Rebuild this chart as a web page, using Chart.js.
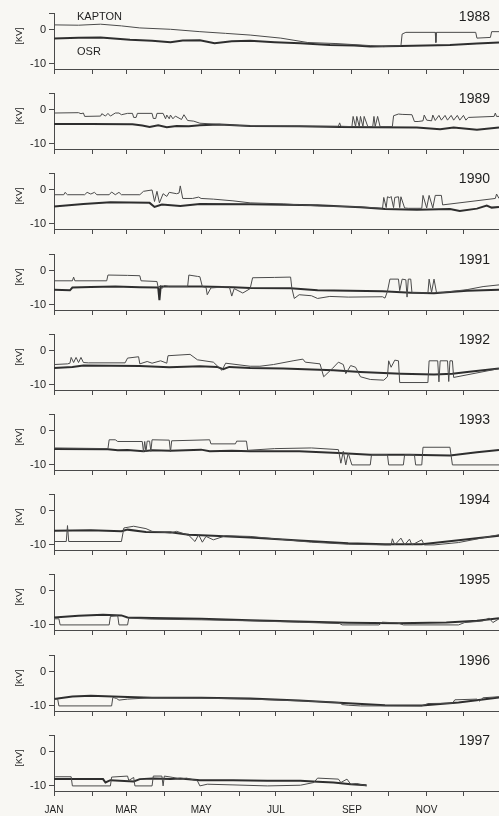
<!DOCTYPE html>
<html>
<head>
<meta charset="utf-8">
<script src="https://cdn.jsdelivr.net/npm/chart.js@4.4.1/dist/chart.umd.min.js"></script>
<style>
  html, body { margin: 0; padding: 0; background: #f8f7f3; }
  #wrap { position: relative; width: 499px; height: 816px; overflow: hidden; }
  .panel { position: absolute; left: 0; width: 499px; }
</style>
</head>
<body>
<div id="wrap"></div>
<script>
// day of year at the start of each month, and the labels shown under the last panel
const monthStarts = [0, 31, 59, 90, 120, 151, 181, 212, 243, 273, 304, 334];
const monthLabels = ['JAN', '', 'MAR', '', 'MAY', '', 'JUL', '', 'SEP', '', 'NOV', ''];
const yTicks = [-10, 0, 5];
const years = [1988, 1989, 1990, 1991, 1992, 1993, 1994, 1995, 1996, 1997];

// [day of year, kV]
const kapton1988 = [[0,1.5],[20,1.4],[38,1.7],[55,1.2],[70,0.6],[95,0.2],[119,-0.5],[140,-1.0],[160,-1.5],[185,-2.4],[207,-3.7],[230,-4.0],[258,-4.6],[269,-4.9],[283,-4.6],[284,-1.2],[287,-0.7],[311,-0.7],[311.5,-3.7],[312,-0.7],[344,-0.7],[345,-2.4],[356,-2.2],[357,-0.5],[363,-0.5]];
const osr1988 = [[0,-2.5],[20,-2.3],[38,-2.2],[62,-2.9],[80,-3.2],[95,-3.6],[105,-3.1],[119,-3.0],[131,-3.9],[145,-3.3],[160,-3.2],[180,-3.6],[201,-3.9],[225,-4.4],[245,-4.6],[258,-4.9],[270,-4.8],[283,-4.7],[323,-4.4],[345,-4.0],[363,-3.7]];

const kapton1989 = [[0,-0.9],[20,-0.8],[22,-1.1],[24,-0.9],[25,-1.9],[38,-1.8],[39,-1.1],[42,-1.8],[44,-1.0],[46,-1.8],[50,-0.9],[53,-0.9],[55,-1.4],[60,-1.0],[64,-1.0],[65,-2.2],[67,-2.2],[68,-1.0],[80,-1.0],[81,-2.5],[83,-2.5],[84,-1.0],[89,-1.0],[91,-2.6],[92,-1.5],[94,-2.6],[95,-1.5],[97,-2.6],[99,-1.8],[104,-2.8],[106,-1.4],[109,-3.1],[114,-3.3],[119,-3.9],[133,-4.2],[146,-4.5],[160,-4.7],[200,-4.8],[232,-4.8],[233,-3.8],[234,-4.8],[243,-4.9],[244,-1.9],[246,-4.9],[247,-1.9],[249,-4.9],[250,-1.9],[252,-4.9],[253,-1.9],[256,-4.9],[260,-4.9],[261,-1.9],[262,-4.9],[264,-1.9],[266,-4.9],[276,-4.9],[277,-1.7],[281,-1.2],[284,-1.3],[292,-1.4],[294,-3.4],[297,-3.4],[301,-3.2],[302,-1.5],[304,-3.0],[308,-3.2],[309,-1.5],[311,-3.1],[314,-1.6],[316,-3.0],[319,-1.6],[321,-3.0],[324,-1.6],[326,-3.0],[329,-1.6],[331,-3.0],[334,-1.6],[336,-3.0],[338,-2.2],[359,-1.9],[360,-0.9],[361,-1.9],[363,-1.9]];
const osr1989 = [[0,-4.1],[30,-4.1],[64,-4.2],[72,-4.6],[78,-5.0],[85,-4.5],[92,-5.1],[100,-4.7],[110,-4.8],[119,-4.5],[135,-4.3],[160,-4.7],[200,-4.8],[233,-5.0],[260,-5.1],[296,-5.2],[315,-5.7],[326,-5.2],[345,-5.8],[363,-5.2]];

const kapton1990 = [[0,-1.4],[8,-1.4],[9,-0.7],[11,-1.4],[25,-1.4],[27,-0.7],[30,-1.2],[33,-0.7],[35,-1.4],[45,-1.4],[47,-0.6],[50,-1.4],[53,-0.7],[55,-1.4],[70,-1.4],[73,-0.4],[80,0],[82,-3.4],[84,-0.4],[86,-3.8],[89,-1.1],[92,-1.9],[94,-0.7],[100,-1.1],[102,-0.9],[103,1.2],[105,-2.5],[113,-2.5],[118,-2.1],[120,-2.5],[130,-2.7],[146,-3.2],[160,-3.8],[187,-4.1],[215,-4.7],[250,-5.0],[268,-5.4],[269,-2.2],[271,-5.2],[272,-2.0],[274,-2.3],[275,-1.9],[277,-5.2],[278,-2.2],[281,-2.0],[282,-5.2],[283,-2.0],[286,-5.3],[289,-5.4],[300,-5.4],[301,-1.6],[304,-5.3],[306,-1.6],[309,-5.3],[311,-1.6],[316,-1.6],[317,-4.4],[360,-2.5],[361,-1.2],[363,-2.5]];
const osr1990 = [[0,-4.9],[24,-4.1],[46,-3.6],[78,-3.8],[82,-5.0],[88,-4.3],[103,-4.7],[119,-4.1],[160,-4.2],[215,-4.5],[250,-5.1],[270,-5.6],[296,-5.8],[323,-5.6],[331,-6.2],[345,-5.5],[353,-4.6],[357,-5.2],[363,-5.0]];

const kapton1991 = [[0,-2.9],[15,-2.9],[16,-1.8],[17,-2.9],[43,-2.9],[44,-1.2],[60,-1.3],[70,-1.4],[71,-2.9],[84,-3.1],[85,-4.9],[87,-4.3],[88,-5.2],[90,-4.3],[94,-4.6],[109,-4.6],[110,-1.2],[117,-1.6],[119,-1.7],[121,-4.6],[124,-4.8],[125,-7.0],[128,-5.0],[143,-4.6],[145,-7.4],[147,-5.2],[154,-6.5],[160,-5.2],[162,-2.0],[180,-1.9],[193,-1.8],[194,-5.0],[196,-8.1],[200,-7.0],[210,-7.3],[215,-8.1],[225,-7.5],[240,-7.7],[268,-7.6],[270,-8.0],[272,-6.0],[274,-2.4],[281,-2.4],[282,-5.8],[284,-2.4],[287,-2.6],[288,-7.7],[289,-2.4],[291,-2.4],[292,-6.4],[305,-6.5],[306,-2.4],[308,-6.3],[310,-2.4],[312,-6.3],[318,-6.3],[337,-5.5],[350,-4.6],[363,-4.1]];
const osr1991 = [[0,-5.5],[13,-5.7],[15,-4.9],[30,-4.7],[50,-4.6],[70,-4.8],[85,-4.9],[86,-8.6],[87,-4.6],[100,-4.6],[120,-4.6],[146,-4.8],[160,-5.0],[193,-5.1],[215,-5.7],[268,-6.0],[291,-6.4],[310,-6.6],[323,-6.2],[337,-5.8],[363,-5.5]];

const kapton1992 = [[0,-4.0],[11,-3.8],[13,-3.6],[14,-1.9],[16,-3.4],[18,-1.9],[20,-3.4],[22,-1.9],[24,-3.4],[28,-3.5],[58,-3.5],[60,-2.1],[69,-1.7],[70,-3.8],[76,-3.1],[80,-3.6],[87,-2.9],[92,-3.6],[93,-1.4],[111,-1.0],[117,-2.6],[130,-3.3],[137,-5.7],[140,-3.6],[160,-4.5],[168,-4.5],[179,-4.0],[195,-2.9],[203,-2.4],[205,-3.3],[217,-3.8],[220,-7.6],[227,-5.2],[232,-3.3],[236,-4.0],[238,-6.7],[242,-4.3],[246,-4.8],[250,-7.6],[258,-8.4],[269,-8.6],[272,-7.6],[273,-2.9],[275,-4.8],[278,-2.7],[281,-2.9],[282,-9.3],[305,-9.3],[306,-2.9],[313,-2.9],[314,-9.1],[315,-2.9],[321,-2.9],[322,-9.0],[323,-2.9],[325,-2.9],[326,-7.8],[363,-5.2]];
const osr1992 = [[0,-5.0],[15,-4.7],[24,-4.3],[70,-4.4],[94,-4.8],[119,-4.5],[133,-4.7],[138,-5.4],[143,-4.7],[160,-5.0],[187,-5.2],[228,-5.7],[250,-6.2],[283,-6.7],[310,-6.9],[325,-6.7],[337,-6.2],[363,-5.2]];

const kapton1993 = [[0,-5.0],[44,-5.2],[45,-2.6],[50,-2.6],[52,-3.1],[72,-3.1],[73,-6.2],[74,-3.1],[75,-6.2],[76,-3.0],[78,-3.0],[79,-6.0],[80,-2.6],[94,-2.7],[95,-6.2],[96,-2.9],[127,-2.6],[128,-3.8],[148,-3.8],[149,-3.0],[157,-3.0],[158,-5.7],[180,-5.2],[210,-5.0],[232,-5.5],[234,-9.5],[236,-6.0],[238,-10.0],[240,-6.5],[243,-10.0],[258,-10.0],[259,-7.0],[272,-7.0],[273,-10.0],[285,-10.0],[286,-7.0],[294,-7.0],[295,-10.0],[300,-10.0],[301,-4.8],[323,-4.8],[325,-10.0],[363,-10.0]];
const osr1993 = [[0,-5.3],[44,-5.4],[52,-5.7],[60,-5.6],[73,-6.0],[80,-5.7],[95,-5.8],[120,-5.5],[127,-6.0],[145,-5.8],[160,-6.0],[200,-6.0],[232,-6.5],[258,-7.0],[290,-7.0],[323,-7.2],[345,-6.3],[363,-5.6]];

const kapton1994 = [[0,-9.0],[10,-9.0],[11,-4.3],[12,-9.0],[55,-9.0],[57,-5.0],[65,-4.5],[75,-5.2],[80,-6.0],[95,-6.5],[100,-6.0],[110,-7.2],[115,-9.0],[118,-7.0],[121,-9.2],[124,-7.5],[130,-8.5],[140,-7.3],[160,-7.5],[180,-8.2],[210,-9.2],[240,-9.8],[270,-10.0],[275,-10.0],[276,-8.2],[278,-10.0],[283,-8.0],[286,-10.0],[290,-8.3],[292,-10.0],[300,-8.5],[302,-10.0],[310,-10.0],[330,-9.3],[363,-7.0]];
const osr1994 = [[0,-5.8],[30,-5.7],[55,-6.0],[60,-5.5],[75,-6.2],[95,-6.3],[110,-7.0],[130,-7.3],[160,-7.8],[200,-8.7],[240,-9.5],[270,-9.8],[300,-9.8],[330,-8.6],[363,-7.3]];

const kapton1995 = [[0,-8.2],[4,-8.2],[5,-10.0],[45,-10.0],[46,-7.5],[52,-7.3],[53,-10.0],[60,-10.0],[61,-8.0],[80,-8.3],[120,-8.5],[160,-8.8],[200,-9.2],[233,-9.6],[235,-10.0],[265,-10.0],[268,-9.2],[280,-9.4],[285,-10.0],[330,-10.0],[335,-9.3],[345,-9.0],[350,-8.8],[355,-8.0],[358,-9.3],[363,-8.2]];
const osr1995 = [[0,-7.8],[20,-7.3],[40,-7.0],[55,-7.2],[60,-7.8],[80,-8.0],[120,-8.2],[160,-8.6],[200,-9.0],[240,-9.4],[280,-9.5],[320,-9.3],[345,-8.8],[363,-8.0]];

const kapton1996 = [[0,-8.0],[3,-8.0],[4,-10.0],[47,-10.0],[48,-7.5],[51,-7.8],[53,-8.3],[60,-8.0],[80,-7.6],[120,-7.7],[160,-8.0],[200,-8.5],[233,-9.0],[235,-9.6],[240,-9.8],[250,-10.0],[300,-10.0],[305,-9.3],[325,-9.2],[327,-8.2],[345,-8.0],[347,-8.6],[350,-7.6],[363,-7.3]];
const osr1996 = [[0,-8.0],[15,-7.2],[30,-7.0],[60,-7.4],[80,-7.6],[120,-7.6],[160,-7.8],[200,-8.4],[240,-9.2],[270,-9.8],[300,-9.9],[330,-9.0],[363,-7.5]];

const kapton1997 = [[1,-7.3],[14,-7.3],[15,-10.0],[46,-10.0],[47,-7.4],[60,-7.1],[61,-8.4],[65,-7.5],[66,-10.0],[80,-10.0],[81,-7.1],[88,-7.1],[89,-10.0],[90,-7.1],[97,-7.5],[103,-8.0],[108,-7.7],[117,-8.5],[119,-10.0],[125,-9.5],[146,-9.7],[174,-10.0],[201,-9.8],[212,-9.0],[215,-7.7],[232,-8.0],[234,-9.0],[239,-8.0],[242,-9.5],[247,-9.3],[255,-10.0]];
const osr1997 = [[0,-8.0],[40,-8.0],[42,-9.0],[46,-8.3],[65,-8.7],[70,-8.0],[81,-7.8],[95,-8.0],[103,-7.8],[119,-8.3],[146,-8.3],[174,-8.5],[201,-8.5],[215,-8.8],[228,-9.0],[242,-9.5],[255,-9.8]];

const kaptonSeries = [kapton1988, kapton1989, kapton1990, kapton1991, kapton1992, kapton1993, kapton1994, kapton1995, kapton1996, kapton1997];
const osrSeries = [osr1988, osr1989, osr1990, osr1991, osr1992, osr1993, osr1994, osr1995, osr1996, osr1997];

const FONT = '"Liberation Sans", Arial, Helvetica, sans-serif';
const INK = '#1f1f1f';
const AXIS = '#4a4a4a';

// year label, [KV] and the KAPTON / OSR names drawn over each panel
const panelText = {
    id: 'panelText',
    afterDraw(chart, args, opts) {
        const ctx = chart.ctx;
        ctx.save();
        ctx.fillStyle = INK;
        ctx.textBaseline = 'middle';

        ctx.font = '14px ' + FONT;
        ctx.textAlign = 'right';
        ctx.fillText(String(opts.year), 490, opts.first ? 17 : 19.5);

        ctx.save();
        ctx.translate(20, 36);
        ctx.rotate(-Math.PI / 2);
        ctx.textAlign = 'center';
        ctx.font = '9px ' + FONT;
        ctx.fillText('[KV]', 0, 0);
        ctx.restore();

        if (opts.first) {
            ctx.font = '11px ' + FONT;
            ctx.textAlign = 'left';
            ctx.fillText('KAPTON', 77, 17);
            ctx.fillText('OSR', 77, 52);
        }
        ctx.restore();
    }
};

const wrap = document.getElementById('wrap');

years.forEach((year, i) => {
    const isLast = i === years.length - 1;
    const top = Math.round(i * 80.2);
    const h = isLast ? 816 - top : 80;

    const div = document.createElement('div');
    div.className = 'panel';
    div.style.top = top + 'px';
    div.style.height = h + 'px';
    const canvas = document.createElement('canvas');
    div.appendChild(canvas);
    wrap.appendChild(div);

    const toPoints = (arr) => arr.map(p => ({ x: p[0], y: p[1] }));

    new Chart(canvas, {
        type: 'line',
        data: {
            datasets: [
                {
                    label: 'KAPTON',
                    data: toPoints(kaptonSeries[i]),
                    borderColor: '#4a4a4a',
                    borderWidth: 1,
                    pointRadius: 0,
                    tension: 0
                },
                {
                    label: 'OSR',
                    data: toPoints(osrSeries[i]),
                    borderColor: '#2e2e2e',
                    borderWidth: 2,
                    pointRadius: 0,
                    tension: 0
                }
            ]
        },
        options: {
            responsive: true,
            maintainAspectRatio: false,
            animation: false,
            layout: { padding: { top: 13, left: 0, right: 0, bottom: 0 } },
            plugins: {
                legend: { display: false },
                tooltip: { enabled: false },
                panelText: { year: year, first: i === 0 }
            },
            scales: {
                x: {
                    type: 'linear',
                    min: 0,
                    max: 363,
                    afterBuildTicks: (scale) => {
                        scale.ticks = monthStarts.map(v => ({ value: v }));
                    },
                    afterFit: (scale) => { scale.height = h - 69; },
                    ticks: {
                        autoSkip: false,
                        maxRotation: 0,
                        padding: 8,
                        color: INK,
                        font: { family: FONT, size: 10 },
                        callback: (value, idx) => isLast ? monthLabels[idx] : ''
                    },
                    grid: { drawOnChartArea: false, tickLength: 5, color: AXIS },
                    border: { display: true, color: AXIS, width: 1 }
                },
                y: {
                    min: -11.5,
                    max: 5,
                    afterBuildTicks: (scale) => {
                        scale.ticks = yTicks.map(v => ({ value: v }));
                    },
                    afterFit: (scale) => { scale.width = 54; },
                    ticks: {
                        padding: 3,
                        color: INK,
                        font: { family: FONT, size: 11 },
                        callback: (value) => value === 5 ? '' : String(value)
                    },
                    grid: { drawOnChartArea: false, tickLength: 5, color: AXIS },
                    border: { display: true, color: AXIS, width: 1 }
                }
            }
        },
        plugins: [panelText]
    });
});
</script>
</body>
</html>
